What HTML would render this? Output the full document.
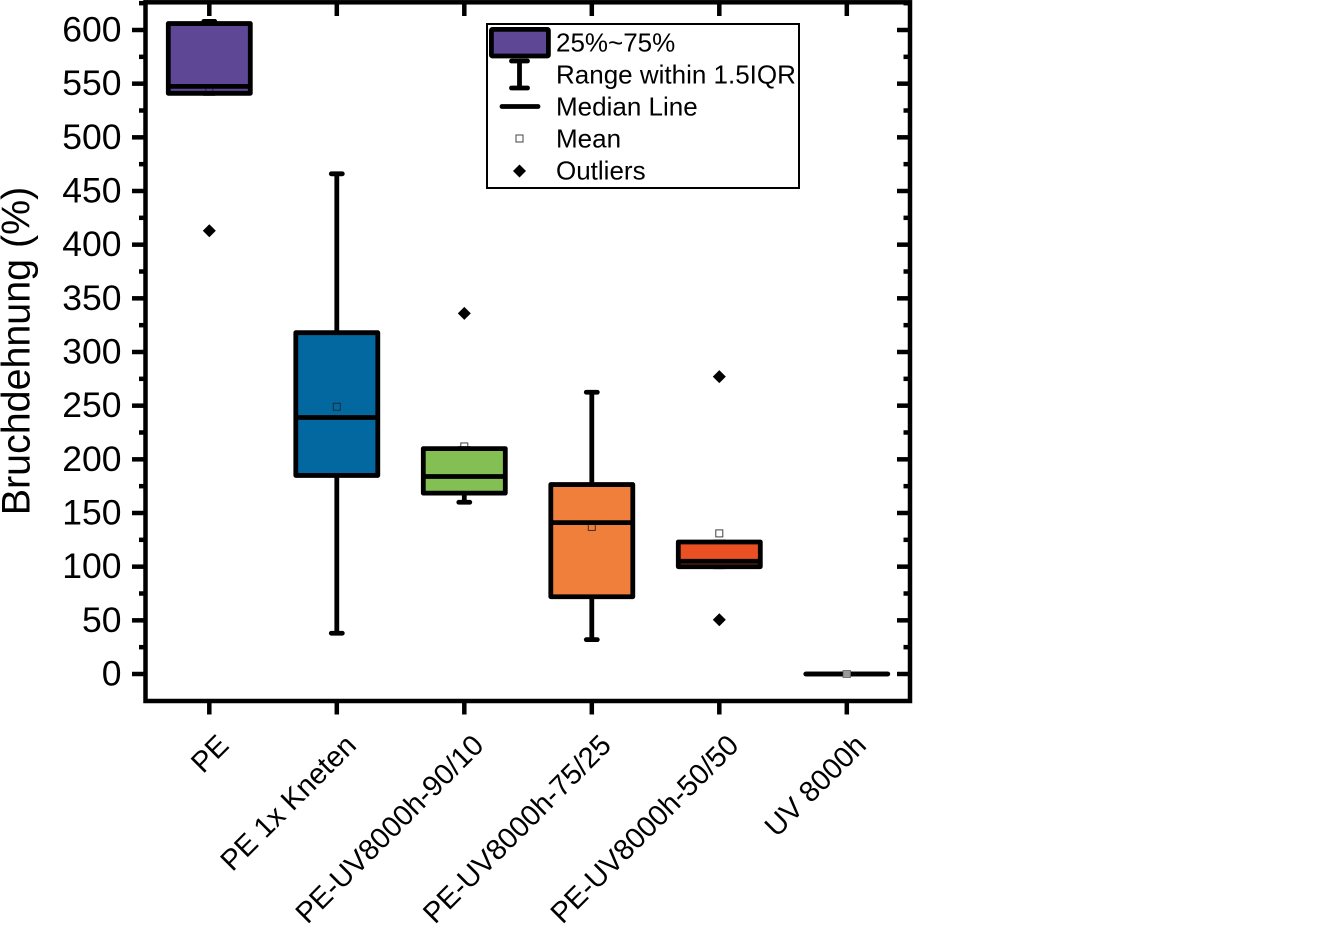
<!DOCTYPE html>
<html lang="de">
<head>
<meta charset="utf-8">
<title>Bruchdehnung Boxplot</title>
<style>
html,body{margin:0;padding:0;background:#fff;width:1323px;height:932px;overflow:hidden}
svg{display:block}
text{font-family:"Liberation Sans",Arial,sans-serif;fill:#000}
</style>
</head>
<body>
<svg id="chart" xmlns="http://www.w3.org/2000/svg" width="1323" height="932" viewBox="0 0 1323 932"></svg>
<script>
const categories = ["PE", "PE 1x Kneten", "PE-UV8000h-90/10", "PE-UV8000h-75/25", "PE-UV8000h-50/50", "UV 8000h"];
const q1Values = [541, 185, 168.5, 72, 100, 0];
const q3Values = [606, 318, 210, 176.5, 123, 0];
const medianValues = [547.5, 239, 184, 141, 105, 0];
const whiskerLow = [541, 38, 160, 32, 100, 0];
const whiskerHigh = [608, 466, 210, 262.5, 123, 0];
const meanValues = [544, 249, 212, 137, 131, 0];
const outlierValues = [[413], [], [336], [], [277, 50.5], []];
const boxColors = ["#5e4795", "#03689f", "#84bf53", "#f07f3c", "#e95124", "#888888"];
const yTickLabels = [0, 50, 100, 150, 200, 250, 300, 350, 400, 450, 500, 550, 600];
const yMinorTicks = [25, 75, 125, 175, 225, 275, 325, 375, 425, 475, 525, 575, 625];
const legendLabels = ["25%~75%", "Range within 1.5IQR", "Median Line", "Mean", "Outliers"];

const SVG_NS = "http://www.w3.org/2000/svg";
const svg = document.getElementById("chart");
const plot = {left: 145.5, right: 910, top: 2.3, bottom: 701};
const LW = 4.5;
const BOX_LW = 4.8;

function yPos(v) { return 674 - v * (644 / 600); }
function xPos(i) { return 209.3 + i * 127.5; }

function make(tag, attrs, parent) {
  const el = document.createElementNS(SVG_NS, tag);
  for (const k in attrs) el.setAttribute(k, attrs[k]);
  (parent || svg).appendChild(el);
  return el;
}
function line(x1, y1, x2, y2, w, parent, cap) {
  return make("line", {x1: x1, y1: y1, x2: x2, y2: y2, stroke: "#000", "stroke-width": w, "stroke-linecap": cap || "butt"}, parent);
}
function diamond(cx, cy, r, parent) {
  return make("path", {d: `M${cx - r} ${cy}L${cx} ${cy - r}L${cx + r} ${cy}L${cx} ${cy + r}Z`, fill: "#000"}, parent);
}

/* ticks */
const axisGroup = make("g", {});



yTickLabels.forEach(function (v) {
  const y = yPos(v);
  const tl = line(132, y, plot.left, y, LW, axisGroup);
  
  
  const tr = line(897, y, plot.right, y, LW, axisGroup);
  
  
  const t = make("text", {x: 121.5, y: y + 11.5, "text-anchor": "end", "font-size": 35.5}, axisGroup);
  t.textContent = v;
  
  
});
yMinorTicks.forEach(function (v) {
  const y = yPos(v);
  const ml = line(139, y, plot.left, y, LW, axisGroup);
  
  
  const mr = line(903.5, y, plot.right, y, LW, axisGroup);
  
  
});
categories.forEach(function (c, i) {
  const x = xPos(i);
  const tb = line(x, plot.bottom, x, 714.5, LW, axisGroup);
  
  
  const tt = line(x, plot.top, x, 16, LW, axisGroup);
  
  
  const lx = x + 21, ly = 747;
  const t = make("text", {x: lx, y: ly, "text-anchor": "end", "font-size": 29, transform: `rotate(-45 ${lx} ${ly})`}, axisGroup);
  t.textContent = c;
  
  
});

/* frame */
const frame = make("rect", {x: plot.left, y: plot.top, width: plot.right - plot.left, height: plot.bottom - plot.top, fill: "none", stroke: "#000", "stroke-width": LW});



const yTitle = make("text", {x: 0, y: 0, "text-anchor": "middle", "font-size": 39.4, transform: "translate(29.5 351) rotate(-90)"});
yTitle.textContent = "Bruchdehnung (%)";



/* boxes */
categories.forEach(function (c, i) {
  const g = make("g", {});
  
  
  const cx = xPos(i), hw = 41;
  const yTop = yPos(q3Values[i]), yBot = yPos(q1Values[i]);

  const wh = line(cx, yPos(whiskerHigh[i]), cx, yTop, BOX_LW, g);
  
  
  const wl = line(cx, yBot, cx, yPos(whiskerLow[i]), BOX_LW, g);
  
  
  const ch = line(cx - 5.5, yPos(whiskerHigh[i]), cx + 5.5, yPos(whiskerHigh[i]), BOX_LW, g, "round");
  
  
  const cl = line(cx - 5.5, yPos(whiskerLow[i]), cx + 5.5, yPos(whiskerLow[i]), BOX_LW, g, "round");
  
  

  const boxPath = `M${cx - hw} ${yTop}H${cx + hw}V${yBot}H${cx - hw}Z`;
  const fill = make("path", {d: boxPath, fill: boxColors[i], stroke: "none"}, g);
  
  

  const mean = make("rect", {x: cx - 3.5, y: yPos(meanValues[i]) - 3.5, width: 7, height: 7, fill: "none", stroke: "#222", "stroke-width": 1, "stroke-opacity": 0.85}, g);
  
  

  const edge = make("path", {d: boxPath, fill: "none", stroke: "#000", "stroke-width": BOX_LW, "stroke-linejoin": "round", "stroke-linecap": "round"}, g);
  
  
  const med = line(cx - hw, yPos(medianValues[i]), cx + hw, yPos(medianValues[i]), BOX_LW, g);
  
  

  if (q1Values[i] === q3Values[i]) {
    const m2 = make("rect", {x: cx - 3.5, y: yPos(meanValues[i]) - 3.5, width: 7, height: 7, fill: "#999", stroke: "#777", "stroke-width": 1}, g);
    
    
  }

  outlierValues[i].forEach(function (v) {
    const d = diamond(cx, yPos(v), 6.5, g);
    
    
  });
});

/* legend */
const legend = make("g", {});


const legendBox = make("rect", {x: 487, y: 24, width: 312, height: 164, fill: "#fff", stroke: "#000", "stroke-width": 2}, legend);


const lgSwatch = make("rect", {x: 491.4, y: 29.4, width: 57, height: 26.6, rx: 1, fill: boxColors[0], stroke: "#000", "stroke-width": BOX_LW, "stroke-linejoin": "round"}, legend);


const lgW = line(519.5, 61, 519.5, 88, BOX_LW, legend);


const lgC1 = line(511.5, 61, 527.5, 61, BOX_LW, legend, "round");


const lgC2 = line(511.5, 88, 527.5, 88, BOX_LW, legend, "round");


const lgM = line(502, 106.5, 538, 106.5, BOX_LW, legend, "round");


const lgMean = make("rect", {x: 516, y: 135, width: 7, height: 7, fill: "none", stroke: "#222", "stroke-width": 1, "stroke-opacity": 0.85}, legend);


const lgO = diamond(519.5, 171, 6.5, legend);


legendLabels.forEach(function (label, i) {
  const t = make("text", {x: 556, y: 51.3 + i * 32, "font-size": 26}, legend);
  t.textContent = label;
  
  
});
</script>
</body>
</html>
